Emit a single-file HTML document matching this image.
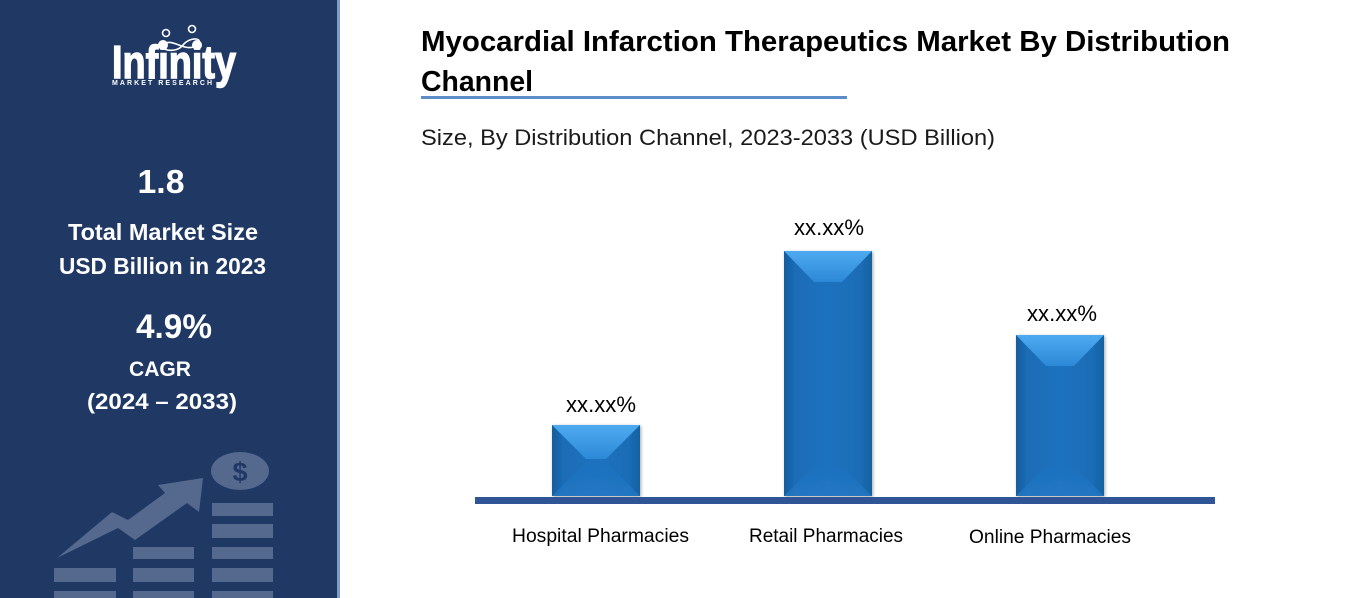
<!DOCTYPE html>
<html>
<head>
<meta charset="utf-8">
<style>
  html,body{margin:0;padding:0;background:#fff;}
  svg{display:block;}
  text{font-family:"Liberation Sans", Arial, sans-serif;}
</style>
</head>
<body>
<svg width="1357" height="598" viewBox="0 0 1357 598" xmlns="http://www.w3.org/2000/svg">
  <defs>
    <linearGradient id="topBev" x1="0" y1="0" x2="0" y2="1">
      <stop offset="0" stop-color="#4eaaf0"/>
      <stop offset="1" stop-color="#2c88d6"/>
    </linearGradient>
    <linearGradient id="body" x1="0" y1="0" x2="1" y2="0">
      <stop offset="0" stop-color="#135c9c"/>
      <stop offset="0.12" stop-color="#1a6cb6"/>
      <stop offset="0.5" stop-color="#1d72bf"/>
      <stop offset="0.88" stop-color="#1a6cb6"/>
      <stop offset="1" stop-color="#16629f"/>
    </linearGradient>
    <linearGradient id="botBev" x1="0" y1="0" x2="0" y2="1">
      <stop offset="0" stop-color="#1d71bd"/>
      <stop offset="1" stop-color="#2479c6"/>
    </linearGradient>
    <filter id="sh" x="-10%" y="-10%" width="120%" height="120%">
      <feGaussianBlur in="SourceAlpha" stdDeviation="1.5"/>
      <feOffset dx="1" dy="1"/>
      <feComponentTransfer><feFuncA type="linear" slope="0.35"/></feComponentTransfer>
      <feMerge><feMergeNode/><feMergeNode in="SourceGraphic"/></feMerge>
    </filter>
  </defs>

  <!-- Sidebar -->
  <rect x="0" y="0" width="338" height="598" fill="#1f3864"/>
  <rect x="337" y="0" width="3" height="598" fill="#7f9cc8"/>

  <!-- Logo -->
  <g fill="none" stroke="#ffffff" stroke-width="1.6">
    <circle cx="166" cy="33" r="3.5"/>
    <circle cx="192" cy="29" r="3.5"/>
    <path d="M163 45 C172 36, 185 54, 197 45 C205 38, 190 36, 183 45 C176 54, 160 50, 163 45 Z"/>
  </g>
  <circle cx="163" cy="45" r="5" fill="#fff"/>
  <circle cx="197" cy="45" r="5" fill="#fff"/>
  <text x="112" y="78" font-size="46" font-weight="bold" fill="#ffffff" stroke="#ffffff" stroke-width="1.4" textLength="124" lengthAdjust="spacingAndGlyphs">Infinity</text>
  <text x="112" y="85" font-size="7" font-weight="bold" fill="#ffffff" textLength="100" lengthAdjust="spacing">MARKET RESEARCH</text>

  <!-- Sidebar stats -->
  <text x="161" y="193" font-size="33" font-weight="bold" fill="#fff" text-anchor="middle" textLength="47" lengthAdjust="spacingAndGlyphs">1.8</text>
  <text x="163" y="240" font-size="23" font-weight="bold" fill="#fff" text-anchor="middle" textLength="190" lengthAdjust="spacingAndGlyphs">Total Market Size</text>
  <text x="162.5" y="274" font-size="23" font-weight="bold" fill="#fff" text-anchor="middle" textLength="207" lengthAdjust="spacingAndGlyphs">USD Billion in 2023</text>
  <text x="174" y="338" font-size="34" font-weight="bold" fill="#fff" text-anchor="middle" textLength="76" lengthAdjust="spacingAndGlyphs">4.9%</text>
  <text x="160" y="376" font-size="21" font-weight="bold" fill="#fff" text-anchor="middle" textLength="62" lengthAdjust="spacingAndGlyphs">CAGR</text>
  <text x="162" y="409" font-size="22" font-weight="bold" fill="#fff" text-anchor="middle" textLength="150" lengthAdjust="spacingAndGlyphs">(2024 – 2033)</text>

  <!-- Sidebar icon -->
  <g fill="#55698f">
    <polygon points="57,558 112,512 128,520 165,493 158,485 203,478 199,512 187,503 135,540 118,528"/>
    <ellipse cx="240" cy="471" rx="29" ry="19"/>
    <rect x="212" y="503" width="61" height="13"/>
    <rect x="212" y="524" width="61" height="14"/>
    <rect x="212" y="547" width="61" height="12"/>
    <rect x="212" y="568" width="61" height="14"/>
    <rect x="212" y="591" width="61" height="10"/>
    <rect x="133" y="547" width="61" height="12"/>
    <rect x="133" y="568" width="61" height="14"/>
    <rect x="133" y="591" width="61" height="10"/>
    <rect x="54" y="568" width="62" height="14"/>
    <rect x="54" y="591" width="62" height="10"/>
  </g>
  <text x="240" y="481" font-size="27" font-weight="bold" fill="#1f3864" text-anchor="middle">$</text>

  <!-- Title -->
  <text x="421" y="51" font-size="29" font-weight="bold" fill="#000" textLength="809" lengthAdjust="spacingAndGlyphs">Myocardial Infarction Therapeutics Market By Distribution</text>
  <text x="421" y="91" font-size="29" font-weight="bold" fill="#000" textLength="112" lengthAdjust="spacingAndGlyphs">Channel</text>
  <rect x="421" y="96" width="426" height="3" fill="#5b8dc8"/>
  <text x="421" y="145" font-size="22" fill="#1a1a1a" textLength="574" lengthAdjust="spacingAndGlyphs">Size, By Distribution Channel, 2023-2033 (USD Billion)</text>

  <!-- Bars -->
  <g filter="url(#sh)">
    <rect x="552" y="425" width="88" height="71" fill="url(#body)"/>
    <polygon points="552,496 640,496 606,462 586,462" fill="url(#botBev)" opacity="0.7"/>
    <polygon points="552,425 640,425 606,459 586,459" fill="url(#topBev)"/>
  </g>
  <g filter="url(#sh)">
    <rect x="784" y="251" width="88" height="245" fill="url(#body)"/>
    <polygon points="784,496 872,496 842,466 814,466" fill="url(#botBev)" opacity="0.7"/>
    <polygon points="784,251 872,251 842,282 814,282" fill="url(#topBev)"/>
  </g>
  <g filter="url(#sh)">
    <rect x="1016" y="335" width="88" height="161" fill="url(#body)"/>
    <polygon points="1016,496 1104,496 1074,466 1046,466" fill="url(#botBev)" opacity="0.7"/>
    <polygon points="1016,335 1104,335 1074,366 1046,366" fill="url(#topBev)"/>
  </g>

  <!-- Axis -->
  <rect x="475" y="497" width="740" height="7" fill="#2f5597"/>

  <!-- Value labels -->
  <text x="601" y="412" font-size="22" fill="#000" text-anchor="middle" textLength="70" lengthAdjust="spacingAndGlyphs">xx.xx%</text>
  <text x="829" y="235" font-size="22" fill="#000" text-anchor="middle" textLength="70" lengthAdjust="spacingAndGlyphs">xx.xx%</text>
  <text x="1062" y="321" font-size="22" fill="#000" text-anchor="middle" textLength="70" lengthAdjust="spacingAndGlyphs">xx.xx%</text>

  <!-- Category labels -->
  <text x="600.5" y="542" font-size="19" fill="#000" text-anchor="middle" textLength="177" lengthAdjust="spacingAndGlyphs">Hospital Pharmacies</text>
  <text x="826" y="542" font-size="19" fill="#000" text-anchor="middle" textLength="154" lengthAdjust="spacingAndGlyphs">Retail Pharmacies</text>
  <text x="1050" y="543" font-size="19" fill="#000" text-anchor="middle" textLength="162" lengthAdjust="spacingAndGlyphs">Online Pharmacies</text>
</svg>
</body>
</html>
